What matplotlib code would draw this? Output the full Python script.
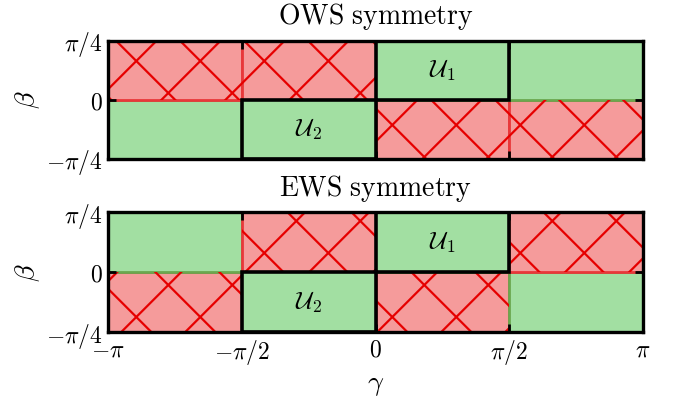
import numpy as np
import matplotlib
matplotlib.use("Agg")
import matplotlib.pyplot as plt
from matplotlib.patches import Rectangle

plt.rcParams['mathtext.fontset'] = 'cm'

# gamma edges of the four columns, beta edges of the two rows
gamma_edges = [-np.pi, -np.pi / 2, 0, np.pi / 2, np.pi]
beta_edges = [-np.pi / 4, 0, np.pi / 4]

# cell states: rows = (beta<0, beta>0), columns along gamma; 1 = allowed, 0 = forbidden
ows_cells = [[1, 1, 0, 0],
             [0, 0, 1, 1]]
ews_cells = [[0, 1, 0, 1],
             [1, 0, 1, 0]]
# labelled cells (row, col, label)
u_cells = [(1, 2, r'$\mathcal{U}_1$'), (0, 1, r'$\mathcal{U}_2$')]

titles = [r'$\mathrm{OWS\ symmetry}$', r'$\mathrm{EWS\ symmetry}$']

green = '#a2dfa2'
green_edge = '#6aa84f'
red = '#f59b9b'
red_edge = '#e8383a'
hatch_col = '#e60000'

fig = plt.figure(figsize=(6.73, 3.97), dpi=100)
ax1 = fig.add_axes([0.1605, 0.600, 0.795, 0.297])
ax2 = fig.add_axes([0.1605, 0.163, 0.795, 0.302])

# hatch lattice in figure inches (lines x+y=c and x-y=d)
step = 0.64
c0, d0 = 6.003, -0.717


def draw_hatch(ax, rect):
    xs = np.array([0, 7.0])
    for k in range(-20, 20):
        for sign, base in ((-1, c0), (1, d0)):
            c = base + k * step
            ys = sign * xs + (c if sign < 0 else -c)
            ln, = ax.plot(xs, ys, color=hatch_col, lw=1.6,
                          transform=fig.dpi_scale_trans, zorder=1.5)
            ln.set_clip_path(rect)


for ax, cells, title in zip([ax1, ax2], [ows_cells, ews_cells], titles):
    ax.set_xlim(gamma_edges[0], gamma_edges[-1])
    ax.set_ylim(beta_edges[0], beta_edges[-1])
    for r in range(2):
        for c in range(4):
            x0, x1 = gamma_edges[c], gamma_edges[c + 1]
            y0, y1 = beta_edges[r], beta_edges[r + 1]
            if cells[r][c]:
                rect = Rectangle((x0, y0), x1 - x0, y1 - y0, facecolor=green,
                                 edgecolor=green_edge, lw=2, zorder=1)
                ax.add_patch(rect)
            else:
                rect = Rectangle((x0, y0), x1 - x0, y1 - y0, facecolor=red,
                                 edgecolor=red_edge, lw=2, zorder=1)
                ax.add_patch(rect)
                draw_hatch(ax, rect)
    for r, c, lab in u_cells:
        x0, x1 = gamma_edges[c], gamma_edges[c + 1]
        y0, y1 = beta_edges[r], beta_edges[r + 1]
        ax.add_patch(Rectangle((x0, y0), x1 - x0, y1 - y0, facecolor=green,
                               edgecolor='black', lw=2.6, zorder=2))
        ax.text((x0 + x1) / 2, (y0 + y1) / 2, lab, ha='center', va='center',
                fontsize=18, zorder=3)
    ax.set_yticks([-np.pi / 4, 0, np.pi / 4])
    ax.set_yticklabels([r'$-\pi/4$', r'$0$', r'$\pi/4$'])
    ax.set_xticks(gamma_edges)
    ax.tick_params(direction='in', length=6, width=2, top=True, right=True,
                   labelsize=17, pad=4)
    for s in ax.spines.values():
        s.set_linewidth(2.4)
        s.set_zorder(4)
    ax.set_ylabel(r'$\beta$', fontsize=20, labelpad=3)
    ax.set_title(title, fontsize=20, pad=12)

ax1.set_xticklabels([])
ax2.set_xticklabels([r'$-\pi$', r'$-\pi/2$', r'$0$', r'$\pi/2$', r'$\pi$'])
ax2.set_xlabel(r'$\gamma$', fontsize=20, labelpad=2)

fig.savefig('out.png', dpi=100)
